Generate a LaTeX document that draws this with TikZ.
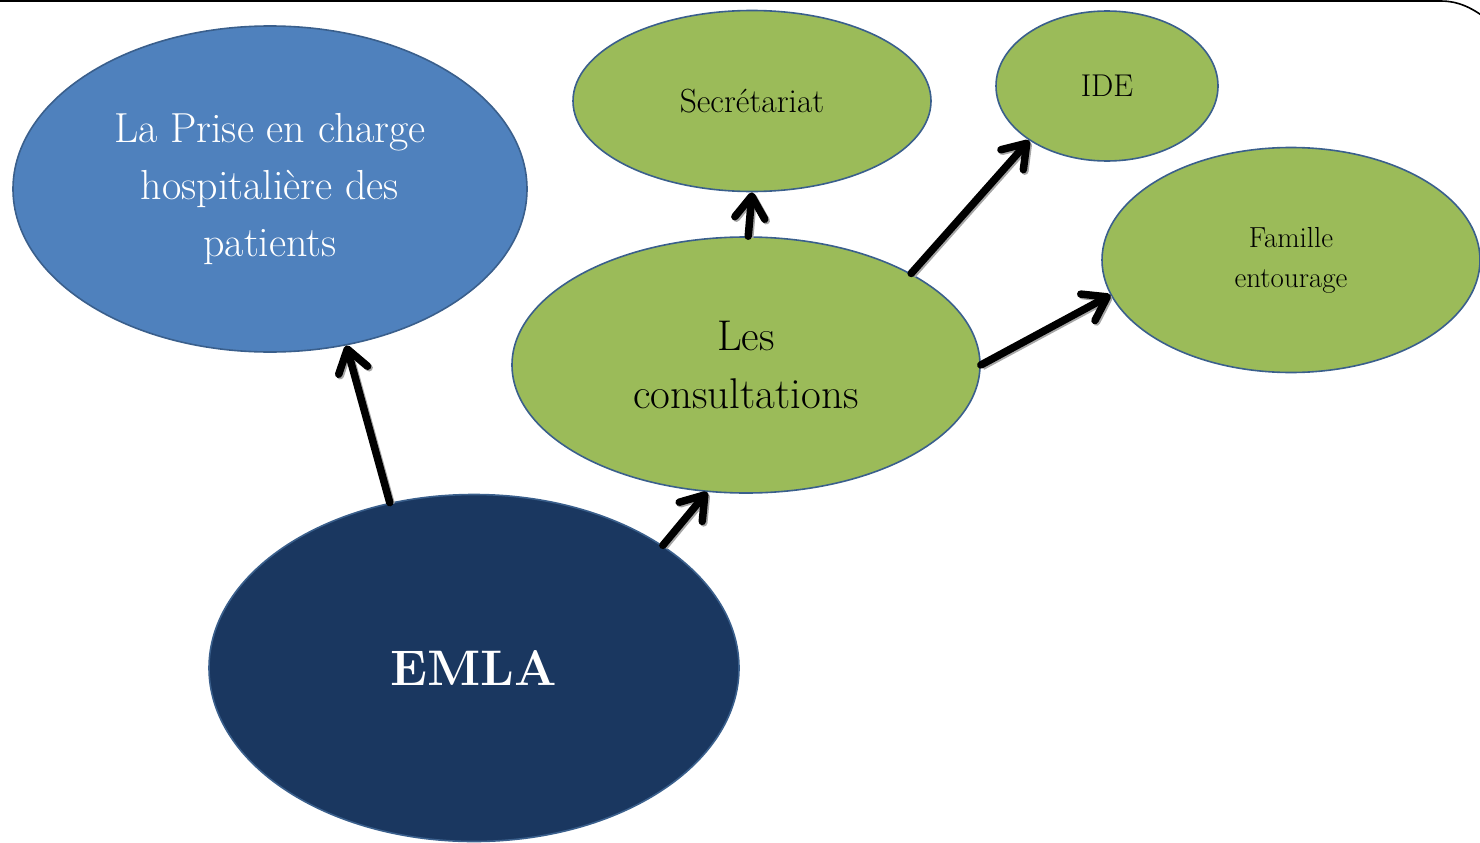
\documentclass[tikz,border=0pt]{standalone}
\usepackage{fontspec}
\usetikzlibrary{arrows.meta,shapes.geometric}
\definecolor{bubbleblue}{HTML}{4F81BD}
\definecolor{bubblegreen}{HTML}{9BBB59}
\definecolor{bubblenavy}{HTML}{1A3760}
\definecolor{rimblue}{HTML}{3A5F8C}
\tikzset{
  bubble/.style={ellipse, draw=rimblue, line width=1.6pt, inner sep=0pt, align=center},
  link/.style={line width=7.5pt, line cap=round, line join=round,
    -{Straight Barb[length=22pt,width=30pt,line cap=round,line join=round]},
    preaction={draw=black!35, line width=7.5pt,
      transform canvas={shift={(1.5pt,-1.5pt)}}}},
}
\begin{document}
\begin{tikzpicture}[x=1pt,y=-1pt]
\useasboundingbox (0,0) rectangle (1480,843);
% frame line along the top edge with its rounded corner
\begin{scope}
\clip (0,0) rectangle (1480,843);
\draw[line width=1.6pt] (-5,1) -- (1440,1) .. controls (1458,1) and (1472,7) .. (1492,23);
\end{scope}

\node[bubble, fill=bubbleblue, minimum width=514pt, minimum height=326pt,
  text=white, font=\fontsize{42}{57}\selectfont] (prise) at (270,189)
  {La Prise en charge\\hospitalière des\\patients};
\node[bubble, fill=bubblegreen, minimum width=358pt, minimum height=181pt,
  font=\fontsize{33.5}{36}\selectfont] (secr) at (752,101) {Secrétariat};
\node[bubble, fill=bubblegreen, minimum width=222pt, minimum height=150pt,
  font=\fontsize{31.5}{36}\selectfont] (ide) at (1107,86) {IDE};
\node[bubble, fill=bubblegreen, minimum width=378pt, minimum height=225pt,
  font=\fontsize{29}{40}\selectfont] (fam) at (1291,260) {Famille\\entourage};
\node[bubble, fill=bubblegreen, minimum width=468pt, minimum height=256pt,
  font=\fontsize{43}{58}\selectfont] (consult) at (746,365) {Les\\consultations};
\node[bubble, fill=bubblenavy, minimum width=530pt, minimum height=347pt,
  text=white, font=\fontsize{50}{60}\selectfont\bfseries] (emla) at (474,668) {EMLA};

\draw[link] (emla.117.5) -- (prise.-64.7);
\draw[link] (emla.33.2) -- (consult.253);
\draw[link] (consult.89) -- (secr.-90);
\draw[link] (consult.29) -- (ide.215);
\draw[link] (consult.0) -- (fam.191.7);
\end{tikzpicture}
\end{document}
